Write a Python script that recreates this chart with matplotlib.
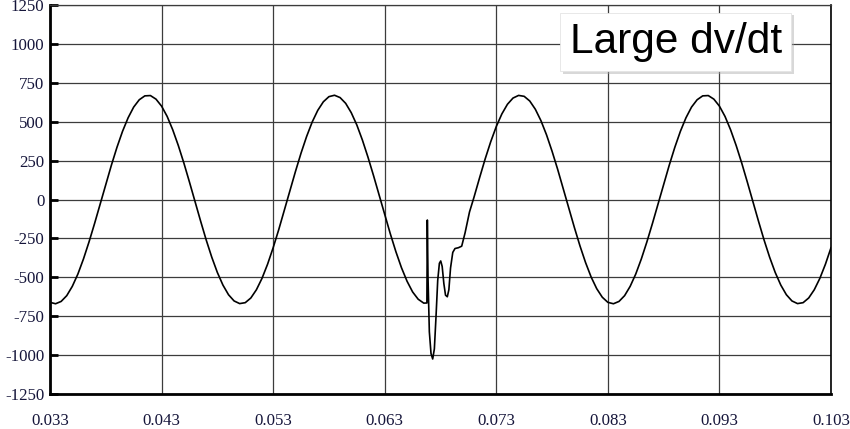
import matplotlib
matplotlib.use('Agg')

import matplotlib.pyplot as plt
import matplotlib.patheffects as pe
import matplotlib.transforms as mtrans
import numpy as np

# readings from the trace, every 0.5 ms (volts)
t_start = 0.033
step = 0.0005
v_before = [-661, -670, -655, -618, -558, -479, -382, -272, -153, -28,
            98, 220, 335, 438, 525, 594, 641, 666, 668, 645,
            600, 534, 448, 347, 234, 112, -14, -139, -260, -371,
            -469, -550, -612, -652, -669, -663, -633, -580, -507, -416,
            -310, -194, -70, 56, 180, 298, 405, 498, 573, 628,
            661, 670, 655, 618, 558, 479, 382, 272, 153, 28,
            -98, -220, -335, -438, -525, -594, -641, -666]

# the switching event (large dv/dt)
t_event = [0.06678, 0.06682, 0.06688, 0.06700, 0.06715, 0.06730, 0.06745,
           0.06760, 0.06775, 0.06790, 0.06802, 0.06815, 0.06830, 0.06845,
           0.06861, 0.06875, 0.06890, 0.06910, 0.06930, 0.06960, 0.06990,
           0.07020, 0.07060]
v_event = [-665, -132, -500, -850, -990, -1025, -960,
           -750, -520, -410, -395, -430, -540, -615,
           -625, -580, -440, -340, -315, -310, -300,
           -215, -80]

t_after_start = 0.0710
v_after = [14, 139, 260, 371, 469, 550, 612, 652, 669, 663,
           633, 580, 507, 416, 310, 194, 70, -56, -180, -298,
           -405, -498, -573, -628, -661, -670, -655, -618, -558, -479,
           -382, -272, -153, -28, 98, 220, 335, 438, 525, 594,
           641, 666, 668, 645, 600, 534, 448, 347, 234, 112,
           -14, -139, -260, -371, -469, -550, -612, -652, -669, -663,
           -633, -580, -507, -416, -310]

xticks = [0.033, 0.043, 0.053, 0.063, 0.073, 0.083, 0.093, 0.103]
xlabels = ['0.033', '0.043', '0.053', '0.063', '0.073', '0.083', '0.093', '0.103']
yticks = [-1250, -1000, -750, -500, -250, 0, 250, 500, 750, 1000, 1250]

t1 = t_start + step * np.arange(len(v_before))
t3 = t_after_start + step * np.arange(len(v_after))
t = np.concatenate([t1, t_event, t3])
v = np.concatenate([v_before, v_event, v_after])

plt.rcParams['axes.unicode_minus'] = False

fig = plt.figure(figsize=[8.5, 4.29], dpi=100)
ax = fig.add_axes([50/850., 1-394/429., 781/850., 389/429.])

ax.plot(t, v, color='black', lw=1.2, zorder=3)

ax.set_xlim(0.033, 0.103)
ax.set_ylim(-1250, 1250)
ax.set_xticks(xticks)
ax.set_xticklabels(xlabels)
ax.set_yticks(yticks)
ax.grid(True, color='#3c3c3c', lw=0.9)

lab_col = '#15153a'
down = mtrans.ScaledTranslation(0, -3/100., fig.dpi_scale_trans)
for lab in ax.get_xticklabels() + ax.get_yticklabels():
    lab.set_fontfamily('Liberation Serif')
    lab.set_fontsize(12.2)
    lab.set_color(lab_col)
for lab in ax.get_yticklabels():
    lab.set_transform(lab.get_transform() + down)
ax.tick_params(axis='x', length=0, pad=14)
ax.tick_params(axis='y', direction='in', length=6, width=2, pad=4)

ax.spines['left'].set_linewidth(2)
ax.spines['bottom'].set_linewidth(2)
ax.spines['top'].set_linewidth(0.9)
ax.spines['top'].set_color('#3c3c3c')
ax.spines['right'].set_linewidth(1.2)

txt = ax.text(0.801, 0.905, 'Large dv/dt', transform=ax.transAxes,
              ha='center', va='center', fontsize=30.5,
              family='Liberation Sans', color='black', zorder=5,
              bbox=dict(boxstyle='square,pad=0.22', fc='white', ec='#e4e4e4', lw=0.6))
txt.get_bbox_patch().set_path_effects([
    pe.SimplePatchShadow(offset=(2, -2), shadow_rgbFace='#aaaaaa', alpha=0.45),
    pe.Normal()])

fig.savefig('out.png', dpi=100)
